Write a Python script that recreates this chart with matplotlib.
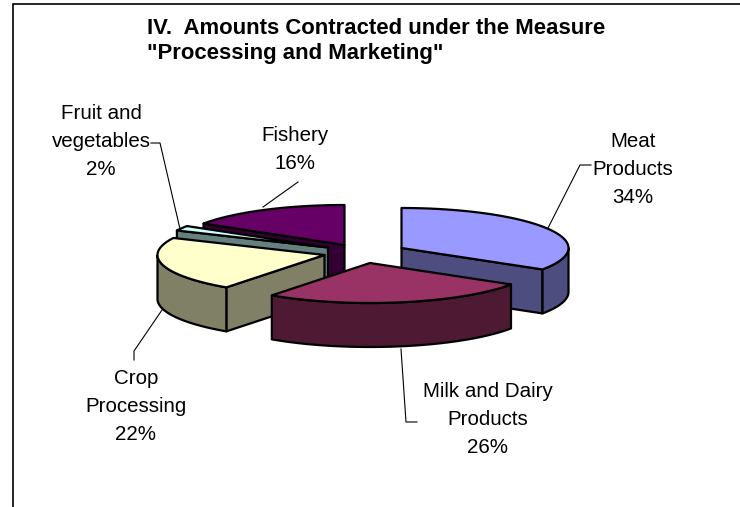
import numpy as np
import matplotlib
matplotlib.use("Agg")
import matplotlib.pyplot as plt
from matplotlib.patches import Polygon

# ---- data ----
categories = ["Meat\nProducts", "Milk and Dairy\nProducts", "Crop\nProcessing",
              "Fruit and\nvegetables", "Fishery"]
shares = [34, 26, 22, 2, 16]
title_lines = ['IV.  Amounts Contracted under the Measure', '"Processing and Marketing"']

top_colors = ["#9999FF", "#993366", "#FFFFCC", "#CCFFFF", "#660066"]
side_colors = ["#4D4D80", "#4D1933", "#808066", "#668080", "#330033"]

# ---- layout (pixels) ----
apexes = [(401.5, 248), (370, 263), (324.5, 255), (328, 247.5), (344.5, 245)]
RX, RY, DEPTH = 167, 40, 44
label_pos = [(633, 169.5), (488, 419.5), (136, 406.5), (101, 141.5), (295, 149.5)]
leaders = [
    [(548, 228), (580, 165), (591, 165)],
    [(401, 349), (406, 422), (417, 422)],
    [(162, 310), (134, 351), (134, 360)],
    [(180, 229), (160, 143), (151, 143)],
    [(263, 207), (298, 182)],
]
draw_order = [4, 3, 2, 0, 1]

plt.rcParams["font.family"] = ["Liberation Sans", "DejaVu Sans"]
fig = plt.figure(figsize=(7.4, 5.07), dpi=100)
ax = fig.add_axes([0, 0, 1, 1])
ax.set_xlim(0, 740)
ax.set_ylim(507, 0)
ax.axis("off")

# chart frame
ax.plot([12.5, 12.5, 740], [507, 4, 4], color="black", lw=1.2, solid_joinstyle="miter")

def pt(apex, deg, dz=0):
    t = np.radians(deg)
    return apex[0] + RX * np.sin(t), apex[1] - RY * np.cos(t) + dz

def arc(apex, a0, a1, dz=0):
    n = max(int(abs(a1 - a0)) * 2, 2)
    ts = np.radians(np.linspace(a0, a1, n))
    return np.column_stack([apex[0] + RX * np.sin(ts), apex[1] - RY * np.cos(ts) + dz])

edges = np.cumsum([0] + shares) * 3.6
EDGE = dict(edgecolor="black", lw=1.6, joinstyle="round")

for i in draw_order:
    a0, a1 = edges[i], edges[i + 1]
    apex = apexes[i]
    side, top = side_colors[i], top_colors[i]
    # radial wall facing the viewer
    wall_angle = None
    if a0 > 180:
        wall_angle = a0
    if a1 < 180:
        wall_angle = a1
    if wall_angle is not None:
        p = pt(apex, wall_angle)
        q = pt(apex, wall_angle, DEPTH)
        ax.add_patch(Polygon([apex, p, q, (apex[0], apex[1] + DEPTH)],
                             facecolor=side, zorder=len(ax.patches) + 2, **EDGE))
    # outer curved wall
    lo, hi = max(a0, 90), min(a1, 270)
    if lo < hi:
        upper = arc(apex, lo, hi)
        lower = arc(apex, hi, lo, DEPTH)
        ax.add_patch(Polygon(np.vstack([upper, lower]), facecolor=side,
                             zorder=len(ax.patches) + 2, **EDGE))
    # top face
    ax.add_patch(Polygon(np.vstack([[apex], arc(apex, a0, a1)]), facecolor=top,
                         zorder=len(ax.patches) + 2, **EDGE))

# labels and leader lines
for cat, val, (x, y), seg in zip(categories, shares, label_pos, leaders):
    ax.text(x, y, f"{cat}\n{val}%", ha="center", va="center", fontsize=14.8,
            linespacing=1.6, color="black", zorder=200)
    xs, ys = zip(*seg)
    ax.plot(xs, ys, color="black", lw=0.8, zorder=150)

ax.text(147, 28, title_lines[0], fontsize=15.9, fontweight="bold", ha="left", va="center", zorder=200)
ax.text(147, 54, title_lines[1], fontsize=15.9, fontweight="bold", ha="left", va="center", zorder=200)

fig.savefig("out.png", dpi=100)
